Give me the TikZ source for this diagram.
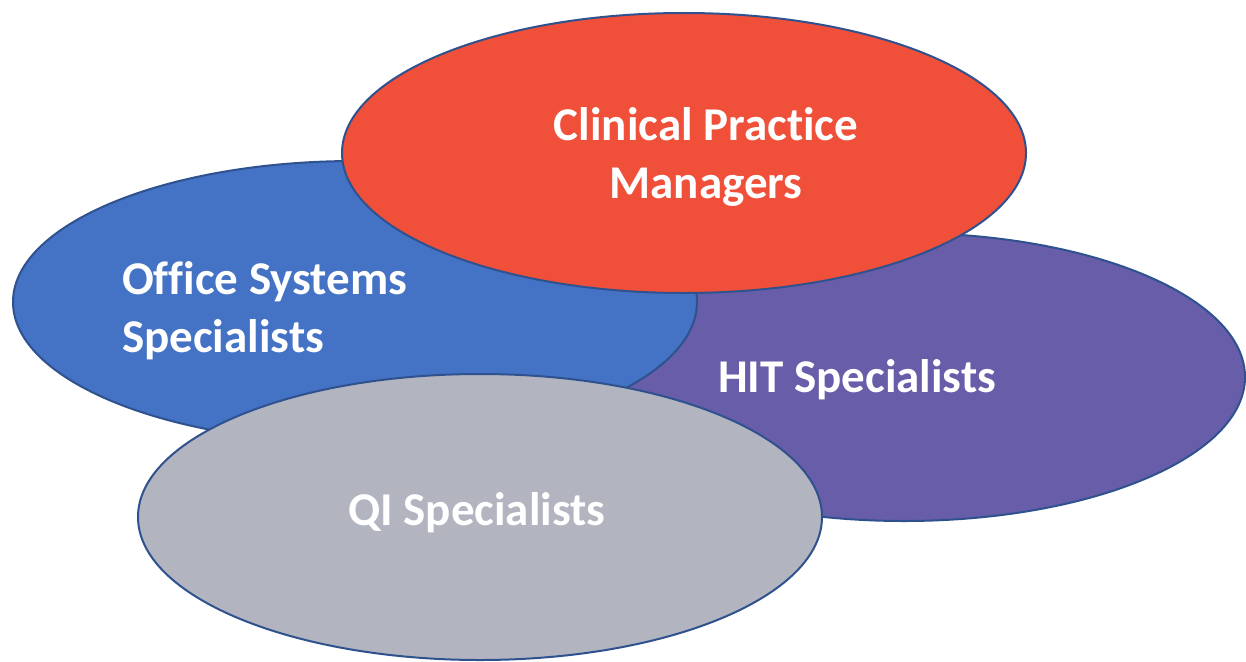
\documentclass[tikz,border=0pt]{standalone}
\usepackage{fontspec}
\setmainfont{Carlito}[Ligatures=NoCommon]
\definecolor{cred}{HTML}{F05039}
\definecolor{cblue}{HTML}{4472C4}
\definecolor{cpurple}{HTML}{675DA8}
\definecolor{cgrey}{HTML}{B2B4BF}
\definecolor{cedge}{HTML}{2F528F}
\tikzset{
  blob/.style={draw=cedge, line width=2pt},
  lbl/.style={text=white, font=\fontsize{47}{58}\selectfont\bfseries, inner sep=0pt},
}
\begin{document}
\begin{tikzpicture}[x=1pt,y=-1pt]
\useasboundingbox (0,0) rectangle (1246,661);
\fill[white] (0,0) rectangle (1246,661);
\path[blob, fill=cpurple] (904,377) ellipse [x radius=341, y radius=144];
\path[blob, fill=cblue] (355,302) ellipse [x radius=342, y radius=141];
\path[blob, fill=cred] (684,153) ellipse [x radius=342, y radius=140];
\path[blob, fill=cgrey] (480,517) ellipse [x radius=342, y radius=143];
\node[lbl, anchor=base, align=center] (cpm) at (706,198) {Clinical Practice\\Managers};
\node[lbl, anchor=base west, align=left] (oss) at (122,352) {Office Systems\\Specialists};
\node[lbl, anchor=base west] (hit) at (718,392) {HIT Specialists};
\node[lbl, anchor=base west] (qi) at (348,525) {QI Specialists};
\end{tikzpicture}
\end{document}
